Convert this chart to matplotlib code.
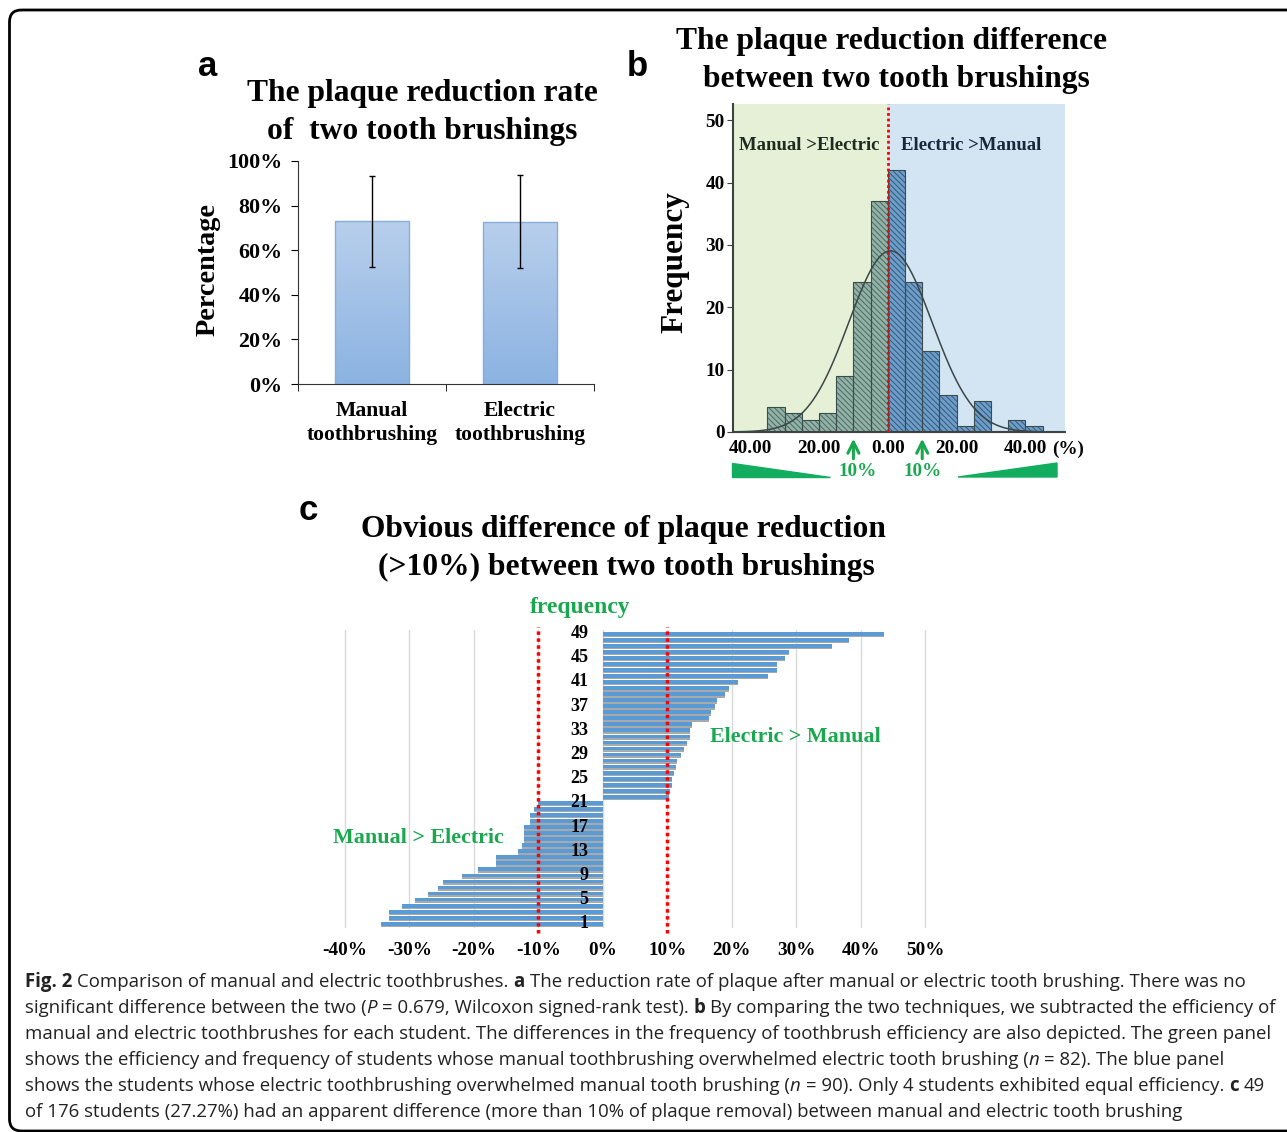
import numpy as np
import matplotlib
matplotlib.use("Agg")
import matplotlib.pyplot as plt
from matplotlib.colors import LinearSegmentedColormap
from matplotlib.patches import FancyBboxPatch, Polygon

W, H = 1287, 1132
SERIF = "Liberation Serif"
SANS = "Liberation Sans"
GREEN = "#1aa84f"

# ── Data ──────────────────────────────────────────────────────────────────────
# panel a : plaque reduction rate (%)
brush_labels   = ["Manual\ntoothbrushing", "Electric\ntoothbrushing"]
reduction_rate = [72.9, 72.8]
reduction_sd   = [20.3, 20.8]

# panel b : histogram of (electric - manual) differences, bins of 5 %
bin_left   = [-35, -30, -25, -20, -15, -10, -5, 0, 5, 10, 15, 20, 25, 30, 35, 40]
bin_counts = [4, 3, 2, 3, 9, 24, 37, 42, 24, 13, 6, 1, 5, 0, 2, 1]
bin_width  = 5
hist_ticks  = [-40, -20, 0, 20, 40]
hist_labels = ["40.00", "20.00", "0.00", "20.00", "40.00"]

# panel c : students with difference > 10 %
neg_diff = [-34.4, -33.2, -33.2, -31.1, -29.1, -27.1, -25.6, -24.8, -21.9, -19.3,
            -16.5, -16.5, -13.1, -12.6, -12.3, -12.3, -12.3, -11.3, -11.3, -10.7, -10.0]
pos_diff = [10.2, 10.5, 10.8, 10.8, 11.1, 11.4, 11.5, 12.2, 12.6, 13.0, 13.6, 13.6,
            13.8, 16.5, 16.8, 17.4, 17.7, 19.0, 19.6, 21.0, 25.7, 27.0, 27.1, 28.3,
            28.9, 35.6, 38.2, 43.7]
student_ticks = [1, 5, 9, 13, 17, 21, 25, 29, 33, 37, 41, 45, 49]
pct_ticks = [-40, -30, -20, -10, 0, 10, 20, 30, 40, 50]

# ── Figure ────────────────────────────────────────────────────────────────────
fig = plt.figure(figsize=(W / 100, H / 100), dpi=100)
fig.patch.set_facecolor("white")
plt.rcParams["hatch.linewidth"] = 0.7

# background axes in pixel coordinates (for text / frame)
bg = fig.add_axes([0, 0, 1, 1], zorder=-1)
bg.set_xlim(0, W)
bg.set_ylim(H, 0)
bg.axis("off")

def px_axes(left, top, right, bottom):
    return fig.add_axes([left / W, 1 - bottom / H, (right - left) / W, (bottom - top) / H])

frame = FancyBboxPatch((9.5, 10), 1400, 1121, boxstyle="round,pad=0,rounding_size=12",
                       fc="none", ec="black", lw=2)
bg.add_patch(frame)

def serif(ax, x, y, s, size, **kw):
    kw.setdefault("ha", "center")
    kw.setdefault("va", "center")
    kw.setdefault("color", "black")
    return ax.text(x, y, s, fontsize=size, family=SERIF, weight="bold",
                   transform=bg.transData, **kw)

# panel letters and titles
for letter, (x, y) in zip("abc", [(208, 67), (637, 67), (308, 511)]):
    bg.text(x, y, letter, fontsize=25, family=SANS, weight="bold", ha="center", va="center")

TITLE = 22.7
serif(bg, 422, 93, "The plaque reduction rate", TITLE)
serif(bg, 422, 131, "of  two tooth brushings", TITLE)
serif(bg, 892, 41, "The plaque reduction difference", TITLE)
serif(bg, 896, 79, "between two tooth brushings", TITLE)
serif(bg, 623, 529, "Obvious difference of plaque reduction", TITLE)
serif(bg, 626, 567, "(>10%) between two tooth brushings", TITLE)

# ── Panel a ───────────────────────────────────────────────────────────────────
ax_a = px_axes(298, 161, 594, 384)
ax_a.set_facecolor("none")
xpos = np.arange(len(reduction_rate))
bars = ax_a.bar(xpos, reduction_rate, width=0.5, color="none", edgecolor="#86acdc",
                linewidth=1, zorder=2)
cmap = LinearSegmentedColormap.from_list("blue_grad", ["#8cb3e2", "#b8cfec"])
grad = np.linspace(0, 1, 100).reshape(-1, 1)
for b in bars:
    im = ax_a.imshow(grad, extent=[b.get_x(), b.get_x() + b.get_width(), 0, b.get_height()],
                     origin="lower", aspect="auto", cmap=cmap, zorder=1)
    im.set_clip_path(b)
ax_a.errorbar(xpos, reduction_rate, yerr=reduction_sd, fmt="none", ecolor="black",
              elinewidth=1, capsize=2, capthick=1, zorder=3)
ax_a.set_xlim(-0.5, 1.5)
ax_a.set_ylim(0, 100)
ax_a.set_yticks([0, 20, 40, 60, 80, 100])
ax_a.set_yticklabels([f"{v}%" for v in [0, 20, 40, 60, 80, 100]])
ax_a.set_xticks(xpos)
ax_a.set_xticklabels(brush_labels, linespacing=1.3)
ax_a.set_xticks([-0.5, 0.5, 1.5], minor=True)
ax_a.tick_params(axis="x", which="major", length=0, pad=12)
ax_a.tick_params(axis="x", which="minor", length=5, direction="out")
ax_a.tick_params(axis="y", length=5, direction="out", pad=6)
for lab in ax_a.get_xticklabels():
    lab.set_fontfamily(SERIF)
    lab.set_fontweight("bold")
    lab.set_fontsize(15.6)
for lab in ax_a.get_yticklabels():
    lab.set_fontfamily(SERIF)
    lab.set_fontweight("bold")
    lab.set_fontsize(15.8)
for side in ["top", "right"]:
    ax_a.spines[side].set_visible(False)
for side in ["left", "bottom"]:
    ax_a.spines[side].set_color("#333333")
serif(bg, 208, 270, "Percentage", 20.3, rotation=90)

# ── Panel b ───────────────────────────────────────────────────────────────────
ax_b = px_axes(733, 104, 1065, 432)
ax_b.axvspan(-45, 0, color="#e5f0d7", zorder=0)
ax_b.axvspan(0, 51.5, color="#d3e4f3", zorder=0)
for left, cnt in zip(bin_left, bin_counts):
    if cnt == 0:
        continue
    if left < 0:
        fc, hc = "#93b2a7", "#4a6a62"
    else:
        fc, hc = "#709dc6", "#2d5a84"
    ax_b.bar(left, cnt, width=bin_width, align="edge", color=fc, edgecolor=hc,
             hatch="\\\\\\\\\\\\", linewidth=0, zorder=2)
    ax_b.bar(left, cnt, width=bin_width, align="edge", fill=False,
             edgecolor="#3c4c4c", linewidth=0.8, zorder=3)

# fitted normal curve from the histogram itself
mids = np.array(bin_left) + bin_width / 2
counts = np.array(bin_counts)
n_tot = counts.sum()
mu = (mids * counts).sum() / n_tot
sd = np.sqrt(((mids - mu) ** 2 * counts).sum() / n_tot)
xs = np.linspace(-45, 51.5, 400)
ys = n_tot * bin_width / (sd * np.sqrt(2 * np.pi)) * np.exp(-0.5 * ((xs - mu) / sd) ** 2)
ax_b.plot(xs, ys, color="#3b4747", lw=1.1, zorder=4)
ax_b.axvline(0, color="red", ls=(0, (1, 1)), lw=2, zorder=5)

ax_b.set_xlim(-45, 51.5)
ax_b.set_ylim(0, 52.6)
ax_b.set_yticks([0, 10, 20, 30, 40, 50])
ax_b.set_xticks(hist_ticks)
ax_b.set_xticklabels(hist_labels)
ax_b.tick_params(axis="y", length=4, pad=2, color="#404040")
ax_b.tick_params(axis="x", length=0, pad=6)
for lab in ax_b.get_xticklabels() + ax_b.get_yticklabels():
    lab.set_fontfamily(SERIF)
    lab.set_fontweight("bold")
    lab.set_fontsize(13.8)
for side in ["top", "right"]:
    ax_b.spines[side].set_visible(False)
for side in ["left", "bottom"]:
    ax_b.spines[side].set_color("#404040")
    ax_b.spines[side].set_linewidth(1.5)
serif(ax_b, 1052, 449, "(%)", 13.8, ha="left")
serif(ax_b, 809, 146, "Manual >Electric", 13.5, color="#1f2b1f")
serif(ax_b, 971, 146, "Electric >Manual", 13.5, color="#17283a")
serif(bg, 675, 262, "Frequency", 22.5, rotation=90)

# green arrows / labels / wedges under the histogram
for xv in [-10, 10]:
    ax_b.annotate("", xy=(xv, -0.012), xytext=(xv, -0.09),
                  xycoords=ax_b.get_xaxis_transform(), textcoords=ax_b.get_xaxis_transform(),
                  arrowprops=dict(arrowstyle="->", color=GREEN, lw=2.2, mutation_scale=20),
                  annotation_clip=False)
serif(bg, 858, 471, "10%", 13.8, color=GREEN)
serif(bg, 923, 471, "10%", 13.8, color=GREEN)
bg.add_patch(Polygon([(732, 463), (732, 477), (830, 477)], closed=True, color="#12ad5e"))
bg.add_patch(Polygon([(958, 477), (1057, 463), (1057, 477)], closed=True, color="#12ad5e"))

# ── Panel c ───────────────────────────────────────────────────────────────────
ax_c = px_axes(341.8, 630, 928.2, 928)
ax_c.set_facecolor("none")
diffs = neg_diff + pos_diff
ypos = np.arange(1, len(diffs) + 1)
ax_c.barh(ypos - 0.27, diffs, height=0.62, color="#a9a9a9", zorder=2)
ax_c.barh(ypos, diffs, height=0.62, color="#5b9bd5", zorder=3)
for xv in [-10, 10]:
    ax_c.plot([xv, xv], [-0.5, 50.1], color="red", ls=(0, (1, 1)), lw=2.5,
              clip_on=False, zorder=4)
ax_c.set_xlim(-40.5, 50.5)
ax_c.set_ylim(0.3, 49.6)
ax_c.set_xticks(pct_ticks)
ax_c.set_xticklabels([f"{v}%" for v in pct_ticks])
ax_c.set_yticks([])
for side in ax_c.spines:
    ax_c.spines[side].set_visible(False)
ax_c.grid(axis="x", color="#d9d9d9", lw=1)
ax_c.set_axisbelow(True)
ax_c.tick_params(axis="x", length=0, pad=10)
for lab in ax_c.get_xticklabels():
    lab.set_fontfamily(SERIF)
    lab.set_fontweight("bold")
    lab.set_fontsize(13.8)
for s in student_ticks:
    ax_c.text(-2.2, s, str(s), ha="right", va="center", fontsize=13, family=SERIF,
              weight="bold", zorder=6)
serif(bg, 580, 607, "frequency", 17, color=GREEN)
serif(ax_c, 795, 737, "Electric > Manual", 15.8, color=GREEN)
serif(ax_c, 418, 838, "Manual > Electric", 15.8, color=GREEN)

# ── Caption ───────────────────────────────────────────────────────────────────
caption = [
    [("Fig. 2", "b"), (" Comparison of manual and electric toothbrushes. ", "n"), ("a", "b"),
     (" The reduction rate of plaque after manual or electric tooth brushing. There was no", "n")],
    [("significant difference between the two (", "n"), ("P", "i"),
     (" = 0.679, Wilcoxon signed-rank test). ", "n"), ("b", "b"),
     (" By comparing the two techniques, we subtracted the efficiency of", "n")],
    [("manual and electric toothbrushes for each student. The differences in the frequency "
      "of toothbrush efficiency are also depicted. The green panel", "n")],
    [("shows the efficiency and frequency of students whose manual toothbrushing overwhelmed "
      "electric tooth brushing (", "n"), ("n", "i"), (" = 82). The blue panel", "n")],
    [("shows the students whose electric toothbrushing overwhelmed manual tooth brushing (", "n"),
     ("n", "i"), (" = 90). Only 4 students exhibited equal efficiency. ", "n"), ("c", "b"),
     (" 49", "n")],
    [("of 176 students (27.27%) had an apparent difference (more than 10% of plaque removal) "
      "between manual and electric tooth brushing", "n")],
]
CAP_FONT = "Open Sans"
CAP_SIZE = 13.4
renderer = fig.canvas.get_renderer()

def text_width(s, **kw):
    t = bg.text(0, 0, s, fontsize=CAP_SIZE, family=CAP_FONT, **kw)
    w = t.get_window_extent(renderer).width
    t.remove()
    return w

space_w = text_width("a a") - text_width("aa")
for i, line in enumerate(caption):
    x = 25
    y = 987 + 26 * i
    for txt, st in line:
        if txt.startswith(" "):
            x += space_w
        core = txt.strip()
        kw = dict(fontsize=CAP_SIZE, family=CAP_FONT, color="#222222", ha="left", va="baseline")
        if st == "b":
            kw["weight"] = "bold"
        elif st == "i":
            kw["style"] = "italic"
        t = bg.text(x, y, core, **kw)
        x += t.get_window_extent(renderer).width
        if txt.endswith(" "):
            x += space_w

fig.savefig("out.png", dpi=100)
